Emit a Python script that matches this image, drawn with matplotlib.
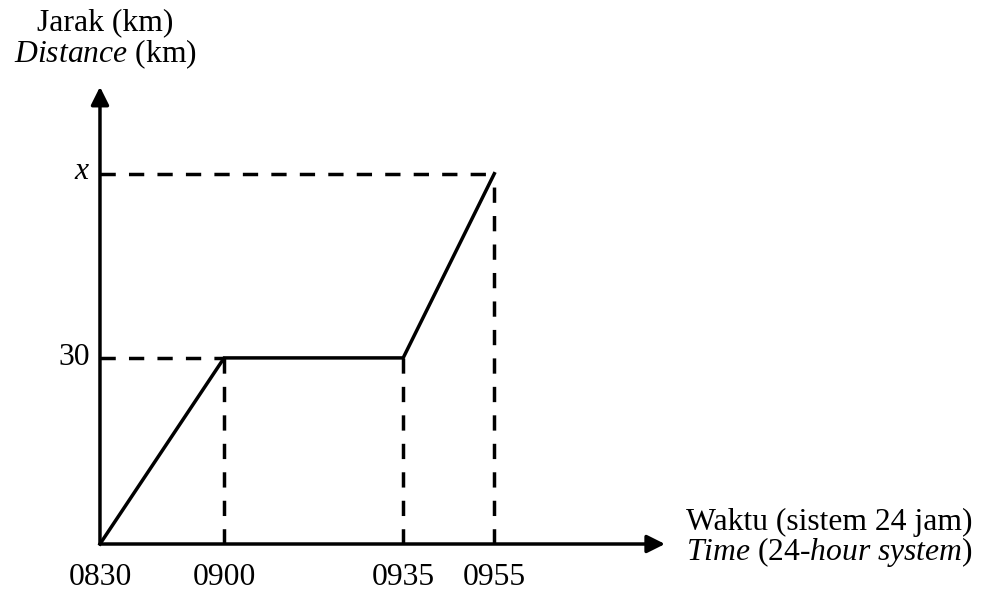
import numpy as np
import matplotlib
matplotlib.use("Agg")
from matplotlib import pyplot as plt

plt.rcParams['font.family'] = ['Liberation Serif', 'DejaVu Serif']
plt.rcParams['mathtext.fontset'] = 'custom'
plt.rcParams['mathtext.rm'] = 'Liberation Serif'
plt.rcParams['mathtext.it'] = 'Liberation Serif:italic'

# posisi waktu (skematik, seperti di gambar) dan jarak
masa_pos = [0, 26.7, 65.2, 84.8]
masa_label = ["0830", "0900", "0935", "0955"]
jarak = [0, 30, 30, 59.7]
jarak_label = ["30", "$x$"]

fs = 22.8
fig = plt.figure(figsize=(9.9, 5.94), dpi=100)
ax = fig.add_axes([0, 0, 1, 1])
ax.set_xlim(-21.5, 191.4)
ax.set_ylim(-8.06, 87.7)
ax.axis('off')

lw = 2.5
hitam = 'black'

# paksi dengan anak panah
ax.annotate('', xy=(121.5, 0), xytext=(0, 0),
            arrowprops=dict(arrowstyle='-|>', lw=lw, color=hitam,
                            mutation_scale=27, shrinkA=0, shrinkB=0))
ax.annotate('', xy=(0, 73.7), xytext=(0, 0),
            arrowprops=dict(arrowstyle='-|>', lw=lw, color=hitam,
                            mutation_scale=27, shrinkA=0, shrinkB=0))

# garis putus-putus
putus = (0, (4.4, 3.8))
for i in [1, 2, 3]:
    ax.plot([masa_pos[i], masa_pos[i]], [0, jarak[i]], color=hitam, lw=lw,
            linestyle=putus)
ax.plot([0, masa_pos[1]], [jarak[1], jarak[1]], color=hitam, lw=lw,
        linestyle=putus)
ax.plot([0, masa_pos[3]], [jarak[3], jarak[3]], color=hitam, lw=lw,
        linestyle=putus)

# graf jarak-masa
ax.plot(masa_pos, jarak, color=hitam, lw=lw, solid_joinstyle='miter')

# label
for p, lab in zip(masa_pos, masa_label):
    ax.text(p, -6.6, lab, ha='center', va='baseline', fontsize=fs)
ax.text(-2.2, jarak[1], jarak_label[0], ha='right', va='center', fontsize=fs)
ax.text(-2.2, jarak[3] + 0.3, jarak_label[1], ha='right', va='center', fontsize=fs)

ax.text(1.2, 82.9, "Jarak (km)", ha='center', va='baseline', fontsize=fs)
ax.text(1.1, 77.6, r"$\mathit{Distance}$ (km)", ha='center', va='baseline',
        fontsize=fs)
# dua baris dalam satu teks
ax.text(126.0, -2.58,
        "Waktu (sistem 24 jam)\n" + r"$\mathit{Time}$ (24-$\mathit{hour\ system}$)",
        ha='left', va='baseline', fontsize=fs, linespacing=0.91)

fig.savefig("out.png", dpi=100)
